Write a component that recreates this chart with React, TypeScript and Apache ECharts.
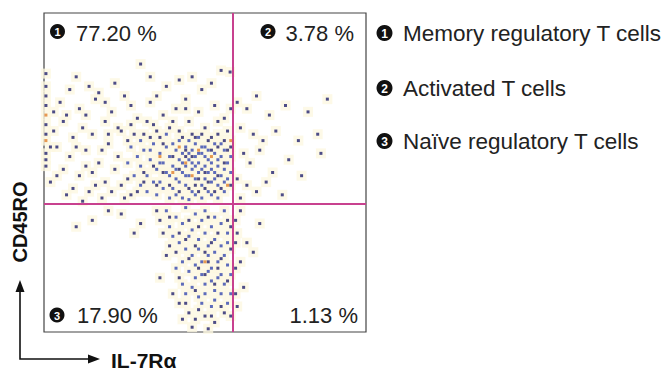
import React, { useEffect, useRef } from 'react';
import * as echarts from 'echarts';

// Gate positions (data units 0..100 on both axes)
const xGate = 58.7;
const yGate = 40.1;

const quadrantValues = ['77.20 %', '3.78 %', '17.90 %', '1.13 %'];
const legendLabels = ['Memory regulatory T cells', 'Activated T cells', 'Naïve regulatory T cells'];
const xAxisName = 'IL-7Rα';
const yAxisName = 'CD45RO';

// Sparse / dark events
const navyPoints: number[][] = [
  [0.6, 81], [0.6, 77], [0.6, 74], [0.6, 71], [0.6, 65], [0.6, 62], [0.6, 56], [0.6, 54], [0.6, 52],
  [30, 84], [46, 80], [55, 82], [57.8, 81.5], [22, 78], [14, 77], [8, 76], [17, 75], [25, 74], [38, 77], [42, 79], [49, 76], [52, 78],
  [5, 72], [11, 70], [16, 73], [21, 69], [27, 71], [33, 72], [37, 68], [41, 70], [44, 73], [48, 69], [53, 71], [56, 67],
  [6, 66], [12, 64], [19, 66], [24, 63], [29, 67], [34, 65], [39, 64], [45, 66], [50, 64], [54, 62],
  [3, 63], [9, 61], [15, 62], [26, 60], [31, 62], [36, 61], [42, 63], [47, 61], [51, 60], [57, 63],
  [4, 58], [8, 55], [13, 57], [17, 53], [20, 59], [23, 55], [6, 51], [11, 49], [15, 50], [19, 47], [22, 51],
  [2, 47], [9, 45], [14, 44], [24, 46], [7, 43], [18, 42], [12, 41],
  [60, 72], [63, 70], [66, 74], [70, 68], [75, 71], [82, 69], [88, 73], [61, 64], [65, 62], [68, 60], [72, 63], [79, 60], [85, 62],
  [62, 56], [64, 53], [67, 57], [71, 50], [76, 54], [60, 48], [63, 46], [66, 44], [69, 47], [74, 43], [80, 49], [61, 42], [86, 56],
  [24, 37], [10, 33], [15, 35], [30, 34], [35, 38], [28, 31], [20, 38],
  [60, 31], [63, 28], [61, 22], [65, 25], [62, 14], [67, 34], [60, 8], [61, 38],
  [38, 24], [40, 12], [36, 17], [45, 6], [47, 4], [50, 5], [53, 3], [56, 6], [42, 9], [46, 1.5], [51, 1],
  [3, 69], [7, 68], [10, 58], [13, 52], [16, 46], [21, 44], [25, 42], [27, 65], [29, 44], [31, 50], [33, 61], [35, 63], [37, 59],
  [39, 46], [40, 66], [42, 44], [43, 61], [44, 55], [45, 45], [46, 62], [47, 46], [48, 44], [49, 62], [50, 45], [51, 47], [52, 61],
  [53, 44], [54, 58], [55, 45], [56, 60], [57, 57], [58, 46], [20, 62], [18, 57], [23, 64], [28, 62], [32, 66], [26, 48], [34, 52],
  [37, 50], [31, 47], [19, 72], [13, 68], [35, 74], [44, 70], [54, 66], [58, 70], [10, 80], [33, 80], [2, 58], [4, 49], [27, 43],
  [35, 46], [40, 55], [42, 51], [44, 57], [46, 55], [48, 48], [50, 50], [52, 57], [54, 49], [56, 53], [58, 58],
  [39, 36], [42, 31], [45, 35], [48, 33], [51, 36], [54, 31], [57, 35], [41, 25], [44, 29], [47, 27], [50, 25], [52, 28], [55, 23],
  [58, 26], [42, 17], [45, 23], [48, 20], [51, 22], [54, 20], [57, 16], [44, 9], [47, 13], [50, 18], [53, 15], [55, 8], [58, 5],
  [43, 4], [48, 7], [52, 5], [39, 27], [37, 31], [36, 35], [58, 33], [59.5, 20], [59.5, 28], [59.5, 12], [59.5, 35],
];

// Denser core events
const bluePoints: number[][] = [
  [27, 58], [29, 55], [30, 52], [31, 57], [32, 49], [33, 54], [34, 59], [35, 51], [36, 56], [36, 47], [37, 53], [38, 58], [38, 50],
  [39, 55], [40, 45], [40, 52], [41, 57], [41, 48], [42, 54], [42, 60], [43, 50], [43, 56], [44, 52], [44, 46], [44, 58], [45, 54],
  [45, 49], [46, 57], [46, 51], [46, 44], [47, 55], [47, 59], [47, 48], [48, 53], [48, 50], [49, 56], [49, 46], [49, 58], [50, 52],
  [50, 48], [50, 55], [51, 50], [51, 57], [51, 44], [52, 53], [52, 47], [53, 56], [53, 50], [53, 59], [54, 52], [54, 46], [55, 55],
  [55, 49], [56, 51], [56, 57], [57, 48], [57, 53], [58, 55], [58, 50], [28, 49], [26, 53], [30, 46], [32, 44], [34, 47], [35, 43],
  [37, 45], [39, 42], [41, 43], [43, 42], [45, 41.5], [47, 43], [49, 42], [52, 43], [54, 42], [56, 44], [33, 57], [40, 59], [45, 60],
  [48, 61], [55, 59], [38, 62], [30, 60], [42, 47], [44, 49], [46, 53], [48, 56], [50, 58], [52, 51], [54, 54], [56, 47], [36, 53],
  [39, 49], [41, 51], [43, 53], [45, 56], [47, 52], [49, 51], [51, 54], [53, 48],
  [38, 38], [41, 36], [44, 39], [47, 37], [50, 38], [53, 36], [56, 38], [39, 33], [43, 34], [46, 32], [49, 35], [52, 33], [55, 34],
  [57, 31], [40, 30], [42, 28], [45, 30], [48, 29], [50, 31], [51, 27], [53, 29], [55, 27], [57, 28], [44, 26], [46, 24], [48, 26],
  [49, 22], [51, 24], [52, 20], [53, 25], [54, 22], [55, 18], [56, 24], [57, 21], [43, 22], [45, 19], [47, 21], [47, 17], [49, 18],
  [50, 15], [51, 19], [52, 16], [53, 13], [54, 17], [56, 15], [58, 18], [41, 20], [43, 15], [44, 12], [46, 14], [48, 11], [49, 9],
  [50, 12], [52, 8], [53, 10], [55, 12], [57, 9], [58, 12],
];

// Rare bright events
const orangePoints: number[][] = [
  [36, 55], [44, 53], [48, 57], [46, 49], [52, 55], [40, 50], [57, 46], [0.6, 68], [0.6, 60], [50, 22], [58, 60], [42, 58],
];

const FONT = '"Liberation Sans", Arial, sans-serif';

export default function App() {
  const ref = useRef<HTMLDivElement>(null);

  useEffect(() => {
    if (!ref.current) return;
    const chart = echarts.init(ref.current, null, { renderer: 'svg' });

    const allPoints = [...navyPoints, ...bluePoints, ...orangePoints];

    const badge = (n: number, cx: number, cy: number, r: number) => [
      { type: 'circle', shape: { cx, cy, r }, style: { fill: '#111' }, z: 10 },
      {
        type: 'text', x: cx, y: cy + 0.5, z: 11,
        style: { text: String(n), fill: '#fff', font: `bold ${Math.round(r * 1.5)}px ${FONT}`, align: 'center', verticalAlign: 'middle' },
      },
    ];

    const qText = (text: string, x: number, y: number, align: string) => ({
      type: 'text', x, y, z: 10,
      style: { text, fill: '#222', font: `22px ${FONT}`, align, verticalAlign: 'middle' },
    });

    const legendRows = [33, 88, 141];

    const graphic: any[] = [
      ...badge(1, 57.5, 31.5, 7.5),
      qText(quadrantValues[0], 76, 33, 'left'),
      ...badge(2, 268, 31.5, 7.5),
      qText(quadrantValues[1], 354, 33, 'right'),
      ...badge(3, 57, 315, 7.5),
      qText(quadrantValues[2], 77, 315, 'left'),
      qText(quadrantValues[3], 358, 315, 'right'),
      ...legendRows.flatMap((y, i) => [
        ...badge(i + 1, 384.5, y, 8),
        {
          type: 'text', x: 403, y, z: 10,
          style: { text: legendLabels[i], fill: '#222', font: `22.5px ${FONT}`, align: 'left', verticalAlign: 'middle' },
        },
      ]),
      // axis arrows
      {
        type: 'polyline', z: 10,
        shape: { points: [[20, 290], [20, 359], [90, 359]] },
        style: { stroke: '#111', lineWidth: 1.6, fill: 'none' },
      },
      { type: 'polygon', z: 10, shape: { points: [[20, 280], [15.5, 292], [24.5, 292]] }, style: { fill: '#111' } },
      { type: 'polygon', z: 10, shape: { points: [[100, 359], [88, 354.5], [88, 363.5]] }, style: { fill: '#111' } },
      {
        type: 'text', x: 111, y: 360, z: 10,
        style: { text: xAxisName, fill: '#111', font: `bold 21px ${FONT}`, align: 'left', verticalAlign: 'middle' },
      },
      {
        type: 'text', x: 20, y: 222, rotation: Math.PI / 2, z: 10,
        style: { text: yAxisName, fill: '#111', font: `bold 20px ${FONT}`, align: 'center', verticalAlign: 'middle' },
      },
    ];

    chart.setOption({
      animation: false,
      backgroundColor: '#fff',
      grid: { left: 44, top: 13, width: 322, height: 319, show: true, borderColor: '#444', borderWidth: 1.2, backgroundColor: 'transparent' },
      xAxis: { type: 'value', min: 0, max: 100, show: false },
      yAxis: { type: 'value', min: 0, max: 100, show: false },
      series: [
        {
          type: 'scatter', data: allPoints, symbol: 'rect', symbolSize: 10,
          itemStyle: { color: '#fdf7e1' }, silent: true, z: 1,
        },
        {
          type: 'scatter', data: navyPoints, symbol: 'rect', symbolSize: 3,
          itemStyle: { color: '#20206e' }, silent: true, z: 3,
        },
        {
          type: 'scatter', data: bluePoints, symbol: 'rect', symbolSize: 3,
          itemStyle: { color: '#3447b0' }, silent: true, z: 3,
        },
        {
          type: 'scatter', data: orangePoints, symbol: 'rect', symbolSize: 3,
          itemStyle: { color: '#e0802c' }, silent: true, z: 4,
        },
        {
          type: 'scatter', data: [], silent: true, z: 5,
          markLine: {
            silent: true, symbol: 'none', animation: false,
            label: { show: false },
            lineStyle: { color: '#c8418f', width: 2, type: 'solid' },
            data: [{ xAxis: xGate }, { yAxis: yGate }],
          },
        },
      ],
      graphic,
    });

    return () => chart.dispose();
  }, []);

  return <div ref={ref} style={{ position: 'fixed', left: 0, top: 0, width: 664, height: 370 }} />;
}
